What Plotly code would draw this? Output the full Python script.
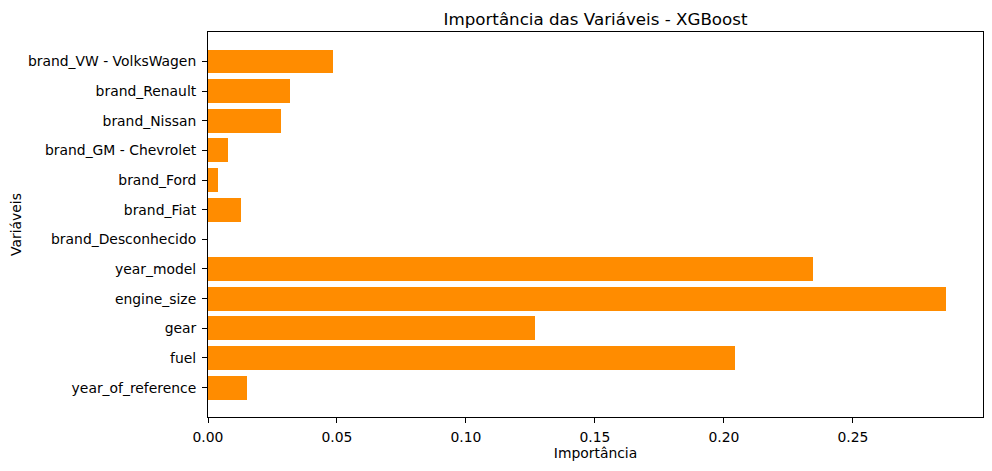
import plotly.graph_objects as go

# feature importances (bottom to top, as drawn)
features = ["year_of_reference", "fuel", "gear", "engine_size", "year_model",
            "brand_Desconhecido", "brand_Fiat", "brand_Ford", "brand_GM - Chevrolet",
            "brand_Nissan", "brand_Renault", "brand_VW - VolksWagen"]
importance = [0.0150, 0.2043, 0.1267, 0.2861, 0.2346,
              0.0, 0.0127, 0.0040, 0.0079,
              0.0282, 0.0317, 0.0486]
xticks = [0.0, 0.05, 0.10, 0.15, 0.20, 0.25]
xtick_text = ["0.00", "0.05", "0.10", "0.15", "0.20", "0.25"]

fig = go.Figure()

fig.add_trace(go.Bar(
    x=importance, y=features,
    orientation="h",
    width=0.8,
    marker=dict(color="#FF8C00", line_width=0),
))

# page body has an 8px margin, so the figure is a bit smaller than the window
fig.update_layout(
    width=984, height=463,
    margin=dict(l=200, r=9, t=24, b=54),
    plot_bgcolor="white", paper_bgcolor="white",
    font=dict(family="DejaVu Sans", size=13.9, color="black"),
    title=dict(text="Importância das Variáveis - XGBoost", x=0.5, xref="paper",
               xanchor="center", y=1, yref="container", yanchor="top", pad=dict(t=5),
               font=dict(size=16.7, color="black")),
    showlegend=False,
    bargap=0,
)

#axes drawn like matplotlib: box all round, small outside ticks
fig.update_xaxes(
    range=[0, max(importance) * 1.05],
    tickvals=xticks, ticktext=xtick_text,
    ticks="outside", ticklen=5, tickcolor="black", ticklabelstandoff=2,
    showline=True, linecolor="black", linewidth=1, mirror=True,
    showgrid=False, zeroline=False, automargin=False,
    title=dict(text="Importância", standoff=4, font=dict(size=13.9)),
)
fig.update_yaxes(
    type="category",
    range=[-0.99, len(features) - 1 + 0.99],
    ticks="outside", ticklen=5, tickcolor="black", ticklabelstandoff=3,
    showline=True, linecolor="black", linewidth=1, mirror=True,
    showgrid=False, zeroline=False, automargin=False,
    title=dict(text="Variáveis", standoff=5, font=dict(size=13.9)),
)

fig.write_html("out.html")
